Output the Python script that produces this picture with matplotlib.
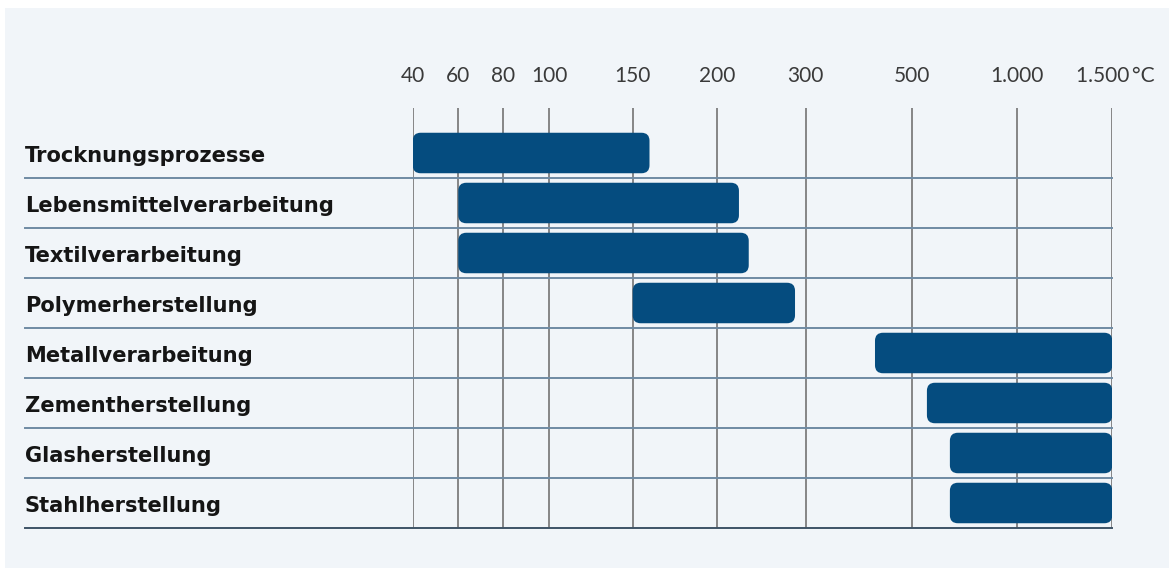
import numpy as np
import matplotlib
matplotlib.use("Agg")
import matplotlib.pyplot as plt
from matplotlib.patches import FancyBboxPatch, Rectangle
from matplotlib.transforms import blended_transform_factory, ScaledTranslation

# ---- data ----
categories = ["Trocknungsprozesse", "Lebensmittelverarbeitung", "Textilverarbeitung",
              "Polymerherstellung", "Metallverarbeitung", "Zementherstellung",
              "Glasherstellung", "Stahlherstellung"]
temp_start = [40, 60, 60, 150, 430, 570, 680, 680]
temp_end = [160, 225, 236, 288, 1500, 1500, 1500, 1500]
tick_values = [40, 60, 80, 100, 150, 200, 300, 500, 1000, 1500]
tick_labels = ["40", "60", "80", "100", "150", "200", "300", "500", "1.000", "1.500\u2009°C"]

# ---- custom (piecewise) temperature scale of the original graphic ----
scale_pos = [0.0, 45.6, 90.6, 136.3, 220.0, 304.0, 393.0, 499.6, 604.0, 699.6]


def to_pos(v):
    return np.interp(v, tick_values, scale_pos)


W, H, DPI = 1169, 568, 100
fig = plt.figure(figsize=(W / DPI, H / DPI), dpi=DPI, facecolor="white")
bg = "#f1f5f9"
fig.patches.append(Rectangle((5 / W, 0), 1 - 5 / W, 1 - 8 / H, transform=fig.transFigure,
                             facecolor=bg, edgecolor="none", zorder=-10))

ax_l, ax_r = 412.7 / W, 1112.3 / W
ax_t, ax_b = 108 / H, 528 / H
ax = fig.add_axes([ax_l, 1 - ax_b, ax_r - ax_l, ax_b - ax_t])
ax.set_facecolor("none")
n = len(categories)
ax.set_xlim(0, scale_pos[-1])
ax.set_ylim(n, -0.4)

for s in ax.spines.values():
    s.set_visible(False)

# vertical grid
for tv in tick_values:
    ax.axvline(to_pos(tv), color="#7d7d7d", lw=1.3, zorder=1)

# horizontal separators extending into label area
ext = -(412.7 - 25) / (1112.3 - 412.7)
for i in range(1, n + 1):
    col = "#3e5366" if i == n else "#6f8ba3"
    ax.axhline(i, xmin=ext, xmax=1.0, color=col, lw=1.4, clip_on=False, zorder=1)

# bars
px_per_x = (1112.3 - 412.7) / scale_pos[-1]
px_per_y = (528 - 108) / (n + 0.4)
bar_h = 0.81
rad_px = 8
for i, (a, b) in enumerate(zip(temp_start, temp_end)):
    x0, x1 = to_pos(a), to_pos(b)
    p = FancyBboxPatch((x0, i + 0.5 - bar_h / 2), x1 - x0, bar_h,
                       boxstyle=f"round,pad=0,rounding_size={rad_px / px_per_x}",
                       mutation_aspect=px_per_x / px_per_y,
                       facecolor="#054c7f", edgecolor="none", zorder=3)
    ax.add_patch(p)

# category labels
trans = blended_transform_factory(fig.transFigure, ax.transData)
for i, c in enumerate(categories):
    ax.text(25 / W, i + 0.5 + 8.5 / px_per_y, c, transform=trans, ha="left", va="baseline",
            fontsize=15.1, fontweight="bold", family=["DejaVu Sans"], color="#151515")

# tick labels on top
ax.xaxis.tick_top()
ax.set_xticks([to_pos(v) for v in tick_values])
ax.set_xticklabels(tick_labels, family=["Lato", "DejaVu Sans"], fontsize=15, color="#3a3a3a")
ax.tick_params(axis="x", length=0, pad=15.5)
ax.set_yticks([])
last = ax.get_xticklabels()[-1]
last.set_horizontalalignment("left")
last.set_transform(last.get_transform() + ScaledTranslation(-36 / DPI, 0, fig.dpi_scale_trans))

fig.savefig("out.png", dpi=DPI, facecolor=fig.get_facecolor())
